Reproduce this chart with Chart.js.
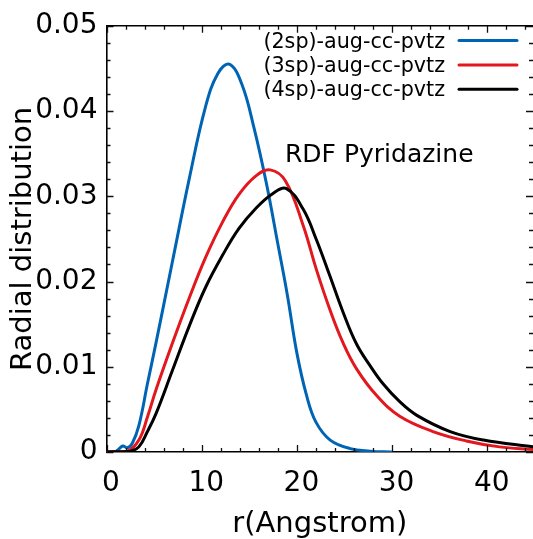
<!DOCTYPE html>
<html>
<head>
<meta charset="utf-8">
<script src="https://cdn.jsdelivr.net/npm/chart.js@4.4.1/dist/chart.umd.min.js"></script>
<style>
  html, body { margin: 0; padding: 0; background: #fff; }
  canvas { display: block; }
</style>
</head>
<body>
<canvas id="rdf" width="533" height="539"></canvas>
<script>
// RDF Pyridazine - radial distribution for three basis sets

const seriesLabels = ['(2sp)-aug-cc-pvtz', '(3sp)-aug-cc-pvtz', '(4sp)-aug-cc-pvtz'];
const seriesColors = ['#0064b4', '#e2181e', '#000000'];

const rBlue = [0, 1.0, 1.7, 2.2, 2.7, 3.4, 4.3, 5.2, 6.9, 8.7, 10.4, 11.7, 12.9, 14.2, 15.5, 16.8, 18.0, 19.0, 20.0, 21.0, 22.0, 23.5, 25.6, 27.7, 29.9];
const yBlue = [0, 0.0001, 0.0007, 0.0005, 0.0010, 0.0031, 0.0080, 0.0128, 0.0222, 0.0321, 0.0405, 0.0444, 0.0455, 0.0432, 0.0380, 0.0315, 0.0244, 0.0184, 0.0116, 0.0067, 0.0035, 0.0014, 0.0004, 0.0001, 0];

const rRed = [0, 2.2, 3.4, 4.3, 5.2, 6.9, 8.7, 10.4, 12.2, 13.9, 15.7, 17.2, 18.8, 20.65, 22.05, 23.5, 24.85, 26.3, 28.4, 30.8, 34.3, 37.8, 41.3, 44.8];
const yRed = [0, 0.0001, 0.0014, 0.0041, 0.0073, 0.0127, 0.0181, 0.0228, 0.0270, 0.0302, 0.0324, 0.0331, 0.0318, 0.0266, 0.0214, 0.0166, 0.0128, 0.0097, 0.0066, 0.0042, 0.0024, 0.0013, 0.0006, 0.0003];

const rBlack = [0, 2.5, 3.4, 4.3, 5.2, 6.9, 8.7, 10.4, 12.2, 13.9, 15.7, 17.45, 18.9, 20.65, 22.05, 23.45, 24.85, 26.25, 27.7, 29.05, 30.8, 32.6, 36.1, 39.6, 44.8];
const yBlack = [0, 0.0001, 0.0006, 0.0024, 0.0045, 0.0095, 0.0148, 0.0193, 0.0231, 0.0262, 0.0286, 0.0303, 0.0309, 0.0285, 0.0249, 0.0207, 0.0164, 0.0127, 0.0101, 0.0080, 0.0059, 0.0043, 0.0024, 0.0014, 0.0006];

const xTickLabels = ['0', '10', '20', '30', '40'];
const yTickLabels = ['0', '0.01', '0.02', '0.03', '0.04', '0.05'];

const X_MAX = 44.8;
const Y_MAX = 0.05;
const FONT = '"DejaVu Sans", sans-serif';

function toPoints(xs, ys) {
    return xs.map((v, i) => ({ x: v, y: ys[i] }));
}

// inward ticks on all four sides, top spine, legend and annotation
const decorPlugin = {
    id: 'decor',
    afterDraw(chart) {
        const { ctx, chartArea: a, scales } = chart;
        const xs = scales.x, ys = scales.y;
        ctx.save();
        ctx.strokeStyle = '#111';
        ctx.lineWidth = 1.3;
        ctx.beginPath();
        // x ticks every 2, major every 10
        for (let i = 0; i * 2 <= X_MAX; i++) {
            const px = Math.round(xs.getPixelForValue(i * 2)) + 0.5;
            const len = (i % 5 === 0) ? 7 : 4;
            ctx.moveTo(px, a.bottom); ctx.lineTo(px, a.bottom - len);
            ctx.moveTo(px, a.top); ctx.lineTo(px, a.top + len);
        }
        // y ticks every 0.002, major every 0.01
        for (let i = 0; i <= 25; i++) {
            const py = Math.round(ys.getPixelForValue(i * 0.002)) + 0.5;
            const len = (i % 5 === 0) ? 7 : 4;
            ctx.moveTo(a.left, py); ctx.lineTo(a.left + len, py);
            ctx.moveTo(a.right, py); ctx.lineTo(a.right - len, py);
        }
        ctx.stroke();

        // top spine
        ctx.lineWidth = 1.6;
        ctx.strokeStyle = '#000';
        ctx.beginPath();
        ctx.moveTo(a.left, a.top); ctx.lineTo(a.right, a.top);
        ctx.stroke();

        // legend: text first, line sample after it
        ctx.font = '20.7px ' + FONT;
        ctx.textAlign = 'right';
        ctx.textBaseline = 'alphabetic';
        seriesLabels.forEach((label, i) => {
            const rowY = 40.5 + i * 24.4;
            ctx.fillStyle = '#000';
            ctx.fillText(label, 445, rowY + 7);
            ctx.strokeStyle = seriesColors[i];
            ctx.lineWidth = 3;
            ctx.lineCap = 'round';
            ctx.beginPath();
            ctx.moveTo(459, rowY); ctx.lineTo(517, rowY);
            ctx.stroke();
        });

        // annotation
        ctx.font = '25px ' + FONT;
        ctx.textAlign = 'left';
        ctx.fillStyle = '#000';
        ctx.fillText('RDF Pyridazine', 285, 162);
        ctx.restore();
    }
};

const datasets = [
    { label: seriesLabels[0], data: toPoints(rBlue, yBlue), borderColor: seriesColors[0], order: 2 },
    { label: seriesLabels[1], data: toPoints(rRed, yRed), borderColor: seriesColors[1], order: 1 },
    { label: seriesLabels[2], data: toPoints(rBlack, yBlack), borderColor: seriesColors[2], order: 0 }
].map(d => ({
    ...d,
    borderWidth: 3,
    pointRadius: 0,
    fill: false,
    tension: 0.4,
    borderCapStyle: 'round',
    borderJoinStyle: 'round'
}));

new Chart(document.getElementById('rdf'), {
    type: 'line',
    data: { datasets },
    plugins: [decorPlugin],
    options: {
        responsive: false,
        animation: false,
        devicePixelRatio: 1,
        layout: { padding: { top: 24, right: 0, left: 0, bottom: 0 } },
        plugins: {
            legend: { display: false },
            tooltip: { enabled: false }
        },
        scales: {
            x: {
                type: 'linear',
                min: 0,
                max: X_MAX,
                afterFit: s => { s.height = 87; },
                grid: { display: false, drawTicks: false },
                border: { display: true, color: '#000', width: 1.6 },
                ticks: {
                    stepSize: 10,
                    includeBounds: false,
                    autoSkip: false,
                    maxRotation: 0,
                    padding: 15,
                    labelOffset: 4.5,
                    color: '#000',
                    font: { family: FONT, size: 28 },
                    callback: (v, i) => xTickLabels[i]
                },
                title: {
                    display: true,
                    text: 'r(Angstrom)',
                    color: '#000',
                    font: { family: FONT, size: 29, lineHeight: 1.0 },
                    padding: { top: 0, bottom: 0 }
                }
            },
            y: {
                type: 'linear',
                min: 0,
                max: Y_MAX,
                afterFit: s => { s.width = 106.5; },
                grid: { display: false, drawTicks: false },
                border: { display: true, color: '#000', width: 1.6 },
                ticks: {
                    stepSize: 0.01,
                    autoSkip: false,
                    padding: 9,
                    color: '#000',
                    font: { family: FONT, size: 28 },
                    callback: (v, i) => yTickLabels[i]
                },
                title: {
                    display: true,
                    text: 'Radial distribution',
                    color: '#000',
                    font: { family: FONT, size: 29 },
                    padding: { top: 6, bottom: 0 }
                }
            }
        }
    }
});
</script>
</body>
</html>
